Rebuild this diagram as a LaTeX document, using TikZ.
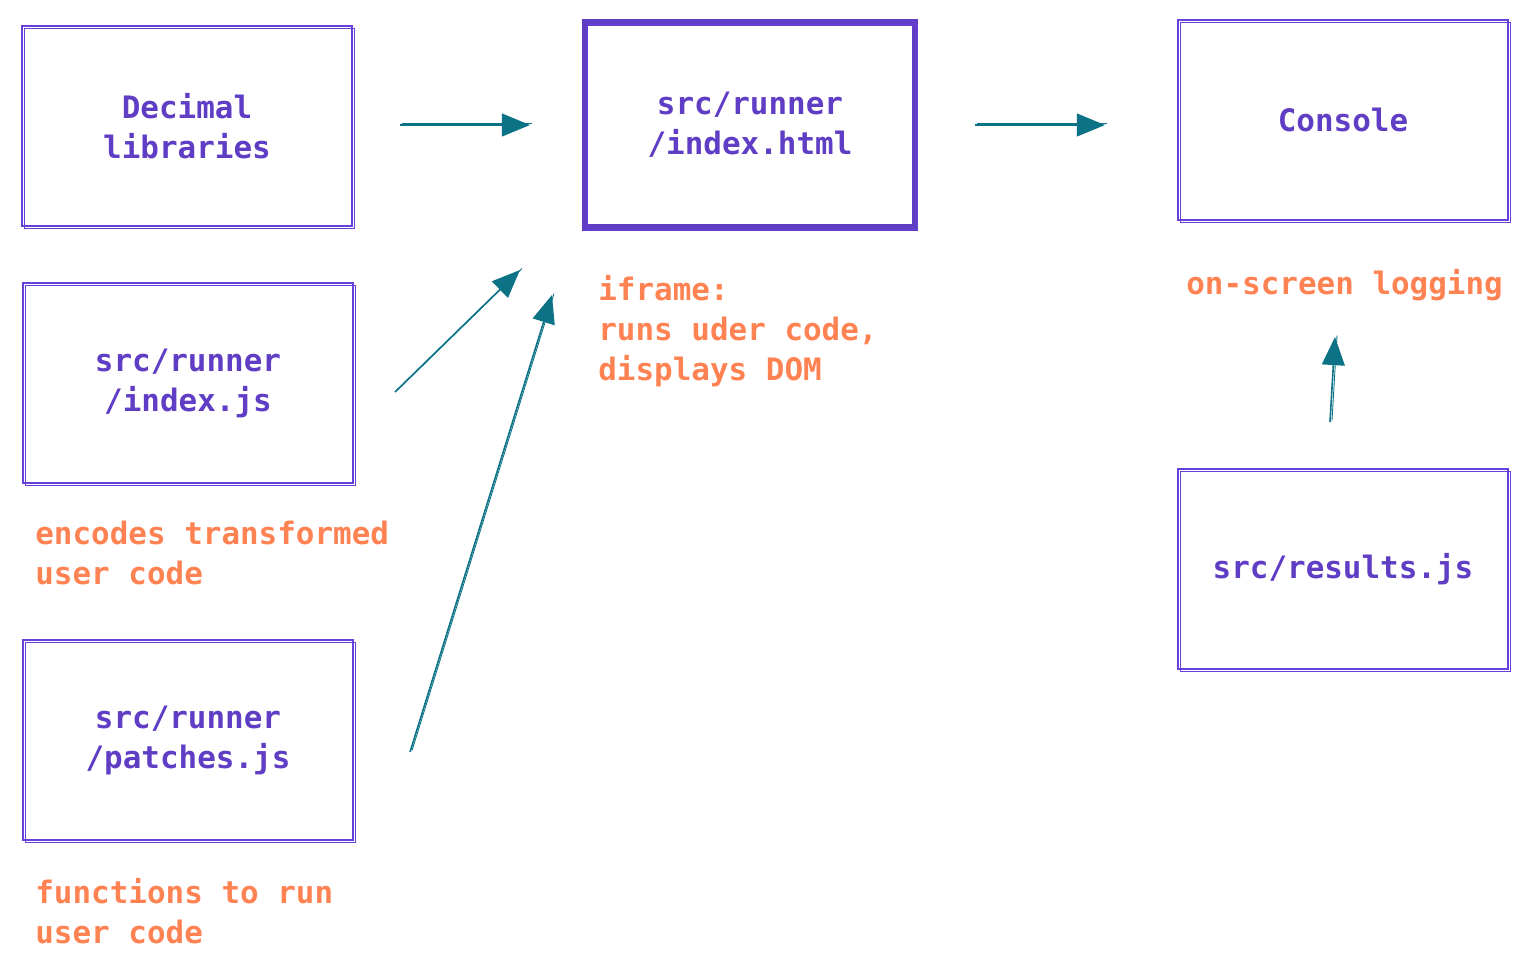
\documentclass[tikz,border=0pt]{standalone}
\usepackage{fontspec}
\setmonofont{DejaVu Sans Mono}
\usetikzlibrary{arrows.meta}
\definecolor{boxc}{HTML}{6741D9}
\definecolor{txtc}{HTML}{5F3DC4}
\definecolor{notec}{HTML}{FF8253}
\definecolor{arrc}{HTML}{0C7285}
\begin{document}
\begin{tikzpicture}[x=0.02cm, y=-0.02cm,
    block/.style={draw=boxc, line width=0.9pt, minimum width=6.6cm, minimum height=4cm,
        align=center, text=txtc, font=\ttfamily\bfseries\fontsize{17.6}{22.8}\selectfont,
        postaction={draw=boxc, line width=0.5pt, transform canvas={shift={(0.05cm,-0.04cm)}}}},
    note/.style={anchor=west, inner sep=0pt, align=left, text=notec,
        font=\ttfamily\bfseries\fontsize{17.6}{22.8}\selectfont},
    flow/.style={draw=arrc, line width=0.9pt, -{Triangle[length=16pt, width=13pt]},
        postaction={draw=arrc, line width=0.5pt, -, transform canvas={shift={(0.04cm,0.03cm)}}}},]
    \useasboundingbox (0,0) rectangle (1526,968);
    \node[block] (dec) at (187,126) {Decimal\\libraries};
    \node[block] (runjs) at (188,383) {src/runner\\/index.js};
    \node[block] (patch) at (188,740) {src/runner\\/patches.js};
    \node[block, draw=txtc, line width=3.5pt, minimum height=4.1cm] (html) at (750,125) {src/runner\\/index.html};
    \node[block] (cons) at (1343,120) {Console};
    \node[block] (res) at (1343,569) {src/results.js};
    % notes
    \node[note] (encnote) at (35,553) {encodes transformed\\user code};
    \node[note] (funcnote) at (35,911) {functions to run\\user code};
    \node[note] (framenote) at (598,331) {iframe:\\runs uder code,\\displays DOM};
    \node[note] (lognote) at (1186,285) {on-screen logging};
    % arrow ends
    \coordinate (decout) at (400,125);
    \coordinate (htmlin) at (530,125);
    \coordinate (htmlout) at (975,125);
    \coordinate (consin) at (1105,125);
    \coordinate (jsout) at (395,392);
    \coordinate (jsin) at (520,270);
    \coordinate (patchout) at (410,752);
    \coordinate (patchin) at (552,295);
    \coordinate (resout) at (1330,422);
    \coordinate (resin) at (1335,337);
    \draw[flow] (decout) -- (htmlin);
    \draw[flow] (htmlout) -- (consin);
    \draw[flow] (jsout) -- (jsin);
    \draw[flow] (patchout) -- (patchin);
    \draw[flow] (resout) -- (resin);
\end{tikzpicture}
\end{document}
